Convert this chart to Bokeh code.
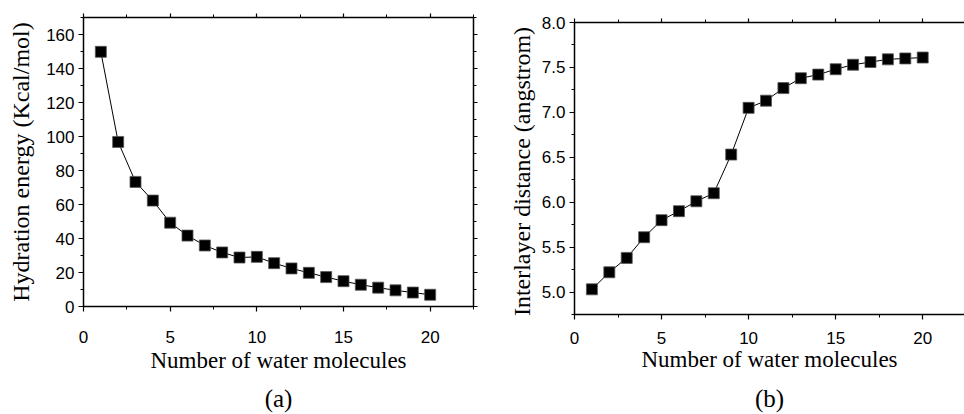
from bokeh.plotting import figure
from bokeh.layouts import row
from bokeh.models import (LinearAxis, Range1d, SingleIntervalTicker, ColumnDataSource,
                          PrintfTickFormatter, CustomJSTickFormatter)
from bokeh.embed import file_html
from bokeh.resources import INLINE

n_water = [1, 2, 3, 4, 5, 6, 7, 8, 9, 10, 11, 12, 13, 14, 15, 16, 17, 18, 19, 20]
hydration_energy = [149.8, 96.8, 73.3, 62.3, 49.3, 41.7, 35.9, 31.8, 28.8, 29.2,
                    25.5, 22.4, 19.8, 17.3, 14.9, 12.8, 11.1, 9.5, 8.2, 6.9]
interlayer_dist = [5.03, 5.22, 5.38, 5.61, 5.80, 5.90, 6.01, 6.10, 6.53, 7.05,
                   7.13, 7.27, 7.38, 7.42, 7.48, 7.53, 7.56, 7.59, 7.60, 7.61]

x_label = "Number of water molecules"
ya_label = "Hydration energy (Kcal/mol)"
yb_label = "Interlayer  distance (angstrom)"

SERIF = "Liberation Serif"
SANS = "Liberation Sans"


def blank_labels(ax, tiny=False):
    ax.formatter = CustomJSTickFormatter(code="return '';")
    ax.major_label_standoff = 0
    if tiny:
        ax.major_label_text_font_size = "1px"


def style_axis(ax, major, minor, labels=True, fmt=None):
    ax.ticker = SingleIntervalTicker(interval=major, num_minor_ticks=int(round(major / minor)))
    ax.axis_line_width = 1.5
    ax.axis_line_color = "black"
    ax.major_tick_out = 5
    ax.major_tick_in = 0
    ax.minor_tick_out = 3
    ax.minor_tick_in = 0
    ax.major_tick_line_width = 1.2
    ax.minor_tick_line_width = 1.0
    ax.major_tick_line_color = "black"
    ax.minor_tick_line_color = "black"
    if labels:
        ax.major_label_text_font = SANS
        ax.major_label_text_font_size = "17px"
        ax.major_label_text_color = "black"
        if fmt:
            ax.formatter = PrintfTickFormatter(format=fmt)
    else:
        blank_labels(ax, tiny=True)


def make_panel(y, yr, ymaj, ymin, yfmt, ylabel, tag, width, left, right, top, xend,
               right_axis, xtick_standoff, xlab_standoff, tag_standoff, ylab_standoff):
    p = figure(width=width, height=414, output_backend="svg", toolbar_location=None,
               x_range=Range1d(0, xend), y_range=Range1d(*yr),
               min_border_left=left, min_border_right=right, min_border_top=top,
               min_border_bottom=0, x_axis_type=None, y_axis_type=None)
    try:
        p.frame_align = False
    except Exception:
        pass
    p.outline_line_color = None
    p.grid.visible = False
    p.background_fill_color = "white"
    p.border_fill_color = "white"

    xb = LinearAxis(axis_label=x_label)
    style_axis(xb, 5, 2.5)
    xb.major_label_standoff = xtick_standoff
    xb.axis_label_text_font = SERIF
    xb.axis_label_text_font_style = "normal"
    xb.axis_label_text_font_size = "23px"
    xb.axis_label_text_color = "black"
    xb.axis_label_standoff = xlab_standoff
    p.add_layout(xb, "below")

    tagax = LinearAxis(axis_label=tag)
    tagax.axis_line_color = None
    tagax.major_tick_line_color = None
    tagax.minor_tick_line_color = None
    blank_labels(tagax)
    tagax.axis_label_text_font = SERIF
    tagax.axis_label_text_font_style = "normal"
    tagax.axis_label_text_font_size = "25px"
    tagax.axis_label_text_color = "black"
    tagax.axis_label_standoff = tag_standoff
    p.add_layout(tagax, "below")

    yl = LinearAxis(axis_label=ylabel)
    style_axis(yl, ymaj, ymin, fmt=yfmt)
    yl.major_label_standoff = 4
    yl.axis_label_text_font = SERIF
    yl.axis_label_text_font_style = "normal"
    yl.axis_label_text_font_size = "24px"
    yl.axis_label_text_color = "black"
    yl.axis_label_standoff = ylab_standoff
    p.add_layout(yl, "left")

    xt = LinearAxis()
    style_axis(xt, 5, 2.5, labels=False)
    xt.major_tick_out = 4
    p.add_layout(xt, "above")

    if right_axis:
        yr_ax = LinearAxis()
        style_axis(yr_ax, ymaj, ymin, labels=False)
        yr_ax.major_tick_out = 4
        p.add_layout(yr_ax, "right")

    src = ColumnDataSource(dict(x=n_water, y=y))
    p.line("x", "y", source=src, line_color="black", line_width=1.0)
    p.scatter("x", "y", source=src, marker="square", size=11, fill_color="black",
              line_color="#555555", line_width=0.8)
    return p


pa = make_panel(hydration_energy, (0, 170), 20, 10, None, ya_label, "(a)",
                482, 83, 9, 17, 22.5, True, 19, 2, 3, 9)
pb = make_panel(interlayer_dist, (4.75, 8.0), 0.5, 0.25, "%.1f", yb_label, "(b)",
                482, 92, 0, 22, 22.4, False, 12, 0, 4, 4)

layout = row(pa, pb)
open("out.html", "w").write(file_html(layout, INLINE))
